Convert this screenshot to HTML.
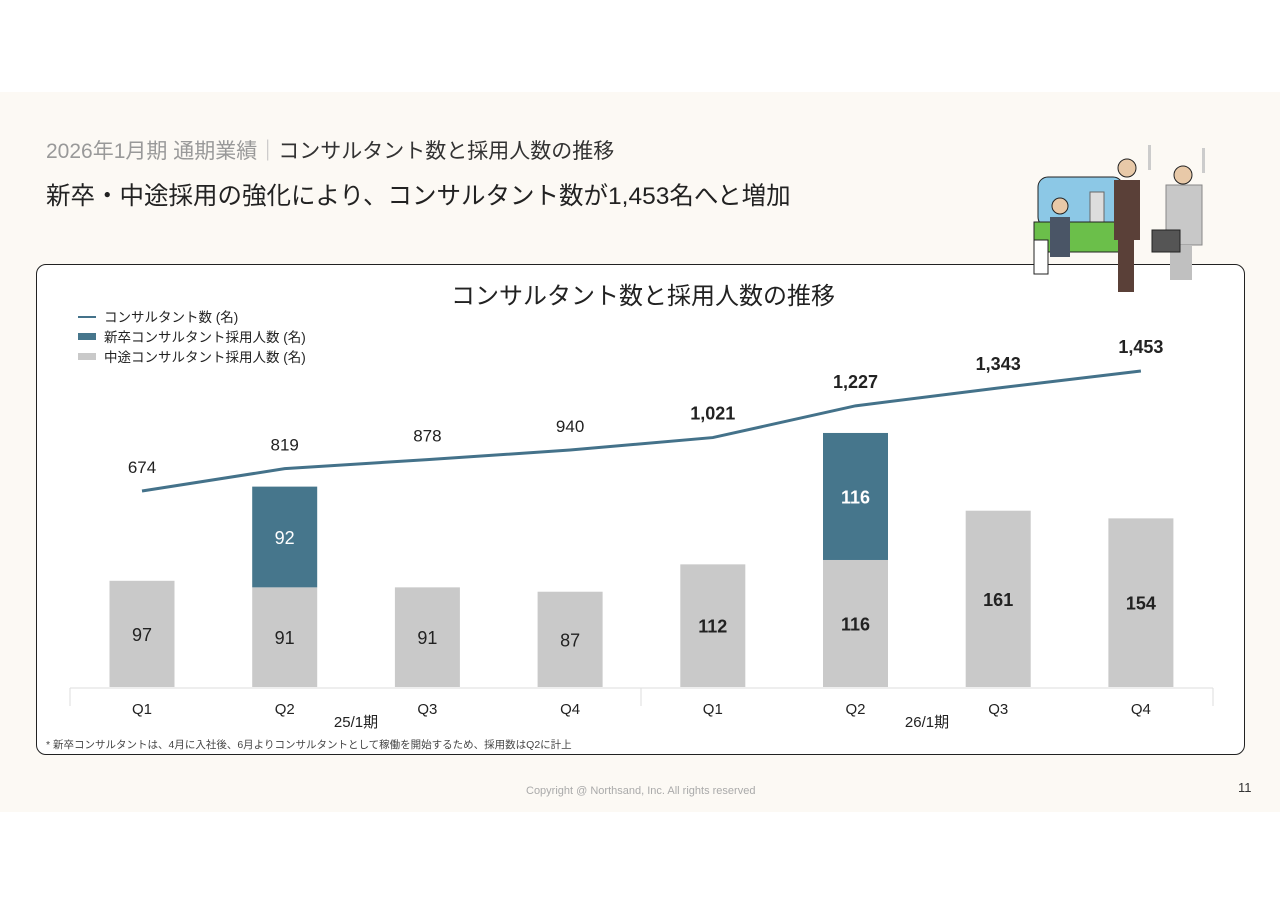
<!DOCTYPE html>
<html><head><meta charset="utf-8"><style>
body{margin:0;width:1280px;height:905px;background:#fff;position:relative;overflow:hidden;font-family:"Liberation Sans","Noto Sans CJK JP",sans-serif;}
.bg{position:absolute;left:0;top:92px;width:1280px;height:720px;background:#fcf9f4;}
.t{position:absolute;white-space:nowrap;}
</style></head><body>
<div class="bg"></div>
<div class="t" style="left:46px;top:135px;font-size:21px;color:#333;"><span style="color:#999">2026年1月期 通期業績</span><span style="color:#bbb">｜</span>コンサルタント数と採用人数の推移</div>
<div class="t" style="left:46px;top:177px;font-size:24.5px;color:#222;">新卒・中途採用の強化により、コンサルタント数が1,453名へと増加</div>
<div style="position:absolute;left:36px;top:264px;width:1207px;height:489px;background:#fff;border:1.5px solid #222;border-radius:10px;"></div>
<svg width="230" height="160" style="position:absolute;left:1020px;top:140px">
<rect x="18" y="37" width="85" height="50" rx="10" fill="#8cc8e6" stroke="#222"/>
<rect x="70" y="52" width="14" height="35" fill="#ddd" stroke="#666"/>
<rect x="14" y="82" width="95" height="30" fill="#6bbf4a" stroke="#222"/>
<rect x="14" y="100" width="14" height="34" fill="#fff" stroke="#222"/>
<circle cx="40" cy="66" r="8" fill="#e8c9a8" stroke="#222"/>
<rect x="30" y="77" width="20" height="40" fill="#4a5566"/>
<circle cx="107" cy="28" r="9" fill="#e8c9a8" stroke="#222"/>
<rect x="94" y="40" width="26" height="60" fill="#5a4038"/>
<rect x="98" y="100" width="16" height="52" fill="#5a4038"/>
<circle cx="163" cy="35" r="9" fill="#e8c9a8" stroke="#222"/>
<rect x="146" y="45" width="36" height="60" fill="#c8c8c8" stroke="#888"/>
<rect x="150" y="105" width="22" height="35" fill="#c0c0c0"/>
<rect x="132" y="90" width="28" height="22" fill="#555" stroke="#222"/>
<rect x="128" y="5" width="3" height="25" fill="#ccc"/><rect x="182" y="8" width="3" height="25" fill="#ccc"/>
</svg>
<svg id="chart" width="1280" height="905" style="position:absolute;left:0;top:0"></svg>
<div class="t" style="left:46px;top:737px;font-size:10.5px;color:#444;">* 新卒コンサルタントは、4月に入社後、6月よりコンサルタントとして稼働を開始するため、採用数はQ2に計上</div>
<div class="t" style="left:526px;top:785px;font-size:11px;color:#aaa;">Copyright @ Northsand, Inc. All rights reserved</div>
<div class="t" style="left:1238px;top:780px;font-size:13px;color:#333;">11</div>
<script>
const categories=["Q1","Q2","Q3","Q4","Q1","Q2","Q3","Q4"];
const periods=["25/1期","26/1期"];
const consultants=[674,819,878,940,1021,1227,1343,1453];
const newGrad=[0,92,0,0,0,116,0,0];
const midCareer=[97,91,91,87,112,116,161,154];
const boldFrom=4;
const NS="http://www.w3.org/2000/svg";
const svg=document.getElementById('chart');
function xPos(i){return 142+i*142.7;}
function yBar(v){return 687-v*1.095;}
function yLine(v){return 594.8-v*0.154;}
function mk(tag,attrs,text){const e=document.createElementNS(NS,tag);for(const k in attrs)e.setAttribute(k,attrs[k]);if(text!==undefined)e.textContent=text;svg.appendChild(e);return e;}
const F='"Liberation Sans","Noto Sans CJK JP",sans-serif';
let e=mk('text',{x:643,y:304,'font-size':24,'text-anchor':'middle','font-family':F,fill:'#222'},'コンサルタント数と採用人数の推移');


const leg=[["line","#44728a","コンサルタント数 (名)"],["box","#46768c","新卒コンサルタント採用人数 (名)"],["box","#c9c9c9","中途コンサルタント採用人数 (名)"]];
leg.forEach((l,i)=>{const y=317+i*20;
 if(l[0]=="line")e=mk('rect',{x:78,y:y-1,width:18,height:2,fill:l[1]});else e=mk('rect',{x:78,y:y-4,width:18,height:7,fill:l[1]});
 
 
 e=mk('text',{x:104,y:y+5,'font-size':13.5,'font-family':F,fill:'#222'},l[2]);
 
 
});
e=mk('line',{x1:70,y1:688,x2:1213,y2:688,stroke:'#ddd'});


[70,641,1213].forEach(x=>{e=mk('line',{x1:x,y1:688,x2:x,y2:706,stroke:'#ddd'});
 
 });
categories.forEach((c,i)=>{const x=xPos(i),b=i>=boldFrom?'bold':'normal';
 const ym=yBar(midCareer[i]);
 e=mk('rect',{x:x-32.5,y:ym,width:65,height:687-ym,fill:'#c9c9c9'});
 
 
 e=mk('text',{x:x,y:(ym+687)/2+7,'font-size':18,'font-weight':b,'text-anchor':'middle','font-family':F,fill:'#222'},midCareer[i]);
 
 
 if(newGrad[i]>0){const yn=yBar(midCareer[i]+newGrad[i]);
  e=mk('rect',{x:x-32.5,y:yn,width:65,height:ym-yn,fill:'#46768c'});
  
  
  e=mk('text',{x:x,y:(yn+ym)/2+7,'font-size':18,'font-weight':b,'text-anchor':'middle','font-family':F,fill:'#fff'},newGrad[i]);
  
  }
 e=mk('text',{x:x,y:714,'font-size':15,'text-anchor':'middle','font-family':F,fill:'#222'},c);
 
 
});
periods.forEach((p,i)=>{e=mk('text',{x:356+i*571,y:727,'font-size':15,'text-anchor':'middle','font-family':F,fill:'#222'},p);
 
 });
const pts=consultants.map((v,i)=>xPos(i)+','+yLine(v)).join(' ');
e=mk('polyline',{points:pts,fill:'none',stroke:'#44728a','stroke-width':3});


consultants.forEach((v,i)=>{const b=i>=boldFrom;
 e=mk('text',{x:xPos(i),y:yLine(v)-18,'font-size':b?18:17,'font-weight':b?'bold':'normal','text-anchor':'middle','font-family':F,fill:'#222'},v.toLocaleString('en-US'));
 
 });
</script>
</body></html>
